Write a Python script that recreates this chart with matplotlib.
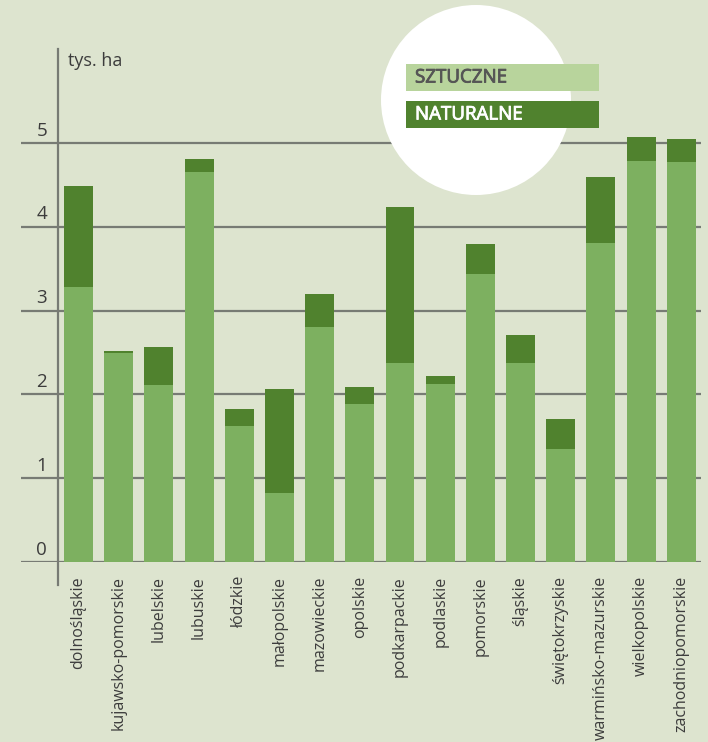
import matplotlib.pyplot as plt
import matplotlib.patheffects as pe
from matplotlib.patches import Ellipse, Rectangle

plt.rcParams['font.family'] = ['Open Sans', 'DejaVu Sans']

regions = ['dolnośląskie', 'kujawsko-pomorskie', 'lubelskie', 'lubuskie', 'łódzkie',
           'małopolskie', 'mazowieckie', 'opolskie', 'podkarpackie', 'podlaskie',
           'pomorskie', 'śląskie', 'świętokrzyskie', 'warmińsko-mazurskie',
           'wielkopolskie', 'zachodniopomorskie']
sztuczne = [3.28, 2.49, 2.11, 4.65, 1.62, 0.82, 2.80, 1.88, 2.38, 2.12,
            3.44, 2.38, 1.35, 3.80, 4.78, 4.77]
razem = [4.48, 2.52, 2.56, 4.81, 1.82, 2.06, 3.20, 2.09, 4.24, 2.22,
         3.79, 2.71, 1.70, 4.59, 5.07, 5.05]
naturalne = [r - s for r, s in zip(razem, sztuczne)]
yticks = [0, 1, 2, 3, 4, 5]

bg = '#dde4cf'
light = '#7db060'
dark = '#50822e'
legend_light = '#b8d49c'
grid_c = '#777b74'
txt = '#3c3c3c'

fig = plt.figure(figsize=(7.08, 7.42), dpi=100, facecolor=bg)
W, H = 708, 742
ax = fig.add_axes([21 / W, (H - 562) / H, (701 - 21) / W, (562 - 49) / H])
ax.set_facecolor(bg)
ax.set_xlim(-1.43, 15.49)
ax.set_ylim(0, 6.12)

for t in yticks:
    ax.axhline(t, color=grid_c, lw=1.6, zorder=1)
    ax.text(-0.78, t + 0.04, str(t), ha='right', va='bottom', fontsize=13.5, color=txt)

x = list(range(len(regions)))
ax.bar(x, sztuczne, width=0.72, color=light, zorder=2)
ax.bar(x, naturalne, width=0.72, bottom=sztuczne, color=dark, zorder=2)

# pionowa os, troche ponizej zera
ax.plot([-0.51, -0.51], [-0.28, 6.12], color=grid_c, lw=1.6, clip_on=False, zorder=3)
ax.text(-0.27, 6.08, 'tys. ha', ha='left', va='top', fontsize=13, color=txt)

for s in ax.spines.values():
    s.set_visible(False)
ax.set_yticks([])
ax.set_xticks(x)
ax.set_xticklabels(regions, rotation=90, fontsize=11.5, color=txt)
ax.tick_params(axis='x', length=0, pad=10)

# legenda w bialym kole, kolo przykrywa linie siatki
fig.patches.append(Ellipse((476 / W, 1 - 100 / H), 190 / W, 190 / H, transform=fig.transFigure,
                           facecolor='white', edgecolor='none', zorder=1))
fig.patches.append(Rectangle((406 / W, 1 - 91 / H), 193 / W, 27 / H, transform=fig.transFigure,
                             facecolor=legend_light, edgecolor='none', zorder=5))
fig.patches.append(Rectangle((406 / W, 1 - 128 / H), 193 / W, 27 / H, transform=fig.transFigure,
                             facecolor=dark, edgecolor='none', zorder=5))
for label, yy, c in [('SZTUCZNE', 77.5, '#555555'), ('NATURALNE', 114.5, 'white')]:
    fig.text(415 / W, 1 - yy / H, label, ha='left', va='center', fontsize=13.5,
             color=c, zorder=6,
             path_effects=[pe.withStroke(linewidth=0.6, foreground=c)])

fig.savefig('out.png', dpi=100, facecolor=bg)
